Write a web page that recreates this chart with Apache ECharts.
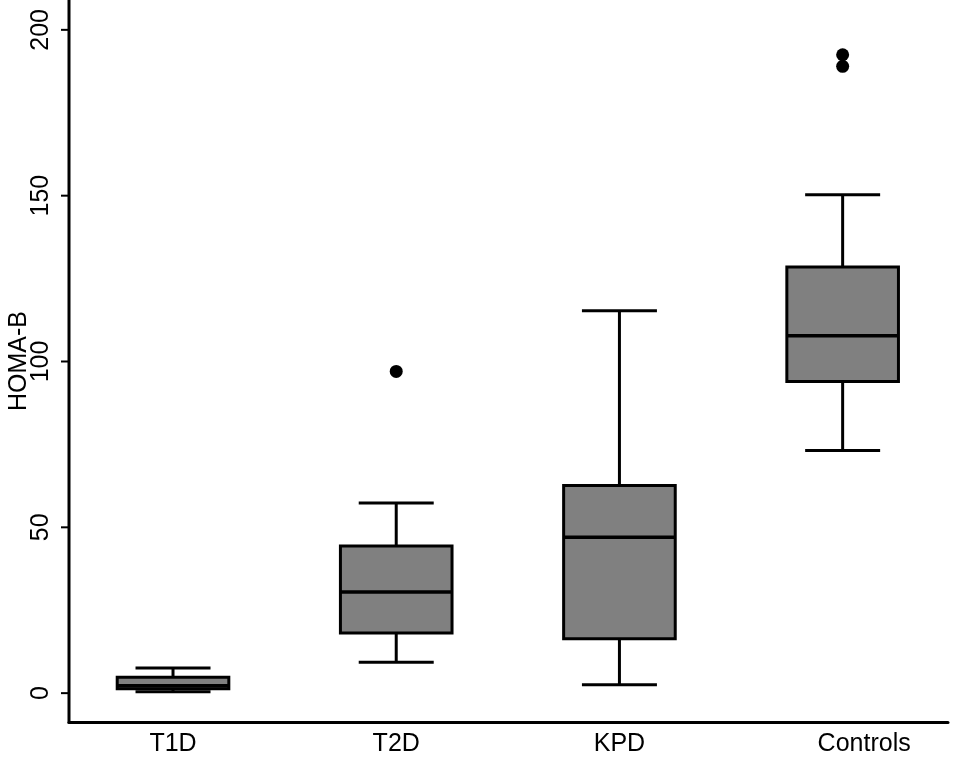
<!DOCTYPE html>
<html>
<head>
<meta charset="utf-8">
<script src="https://cdn.jsdelivr.net/npm/echarts@6/dist/echarts.min.js"></script>
<style>
  html, body { margin: 0; padding: 0; background: #fff; }
  #chart { width: 957px; height: 763px; }
</style>
</head>
<body>
<div id="chart"></div>
<script>
// groups on the x axis (placed at positions 1..4)
const categories = ['T1D', 'T2D', 'KPD', 'Controls']
// [lower whisker, Q1, median, Q3, upper whisker]
const boxValues = [
  [0.4, 1.3, 2.2, 4.8, 7.6],
  [9.3, 18.1, 30.5, 44.4, 57.3],
  [2.5, 16.4, 47.0, 62.6, 115.3],
  [73.2, 94.0, 107.8, 128.5, 150.3]
]
// outliers: [group position, value]
const outliers = [
  [2, 97.0],
  [4, 189.0],
  [4, 192.5]
]
const yTicks = [0, 50, 100, 150, 200]
const xTicks = [1, 2, 3, 4]

const font = 'Liberation Sans, Arial, sans-serif'
const xMin = 0.534
const xMax = 4.472
const yMin = -8.7
const yMax = 209
const chart = echarts.init(document.getElementById('chart'))

// box and whiskers drawn from the axes' own scales
function renderBox(params, api) {
  const i = api.value(0)
  const lo = api.coord([i, api.value(1)])
  const q1 = api.coord([i, api.value(2)])
  const med = api.coord([i, api.value(3)])
  const q3 = api.coord([i, api.value(4)])
  const hi = api.coord([i, api.value(5)])
  const band = api.size([1, 0])[0]
  const bw = band * 0.25
  const cw = band * 0.168
  const cx = lo[0]
  const line = { stroke: '#000', lineWidth: 3 }
  return {
    type: 'group',
    children: [
      { type: 'line', shape: { x1: cx, y1: q3[1], x2: cx, y2: hi[1] }, style: line },
      { type: 'line', shape: { x1: cx, y1: q1[1], x2: cx, y2: lo[1] }, style: line },
      { type: 'line', shape: { x1: cx - cw, y1: hi[1], x2: cx + cw, y2: hi[1] }, style: line },
      { type: 'line', shape: { x1: cx - cw, y1: lo[1], x2: cx + cw, y2: lo[1] }, style: line },
      {
        type: 'rect',
        shape: { x: cx - bw, y: q3[1], width: bw * 2, height: q1[1] - q3[1] },
        style: { fill: '#808080', stroke: '#000', lineWidth: 3 }
      },
      { type: 'line', shape: { x1: cx - bw, y1: med[1], x2: cx + bw, y2: med[1] }, style: { stroke: '#000', lineWidth: 3.5 } }
    ]
  }
}

// left axis line and ticks, placed through the y scale
function renderYAxis(params, api) {
  const p = api.coord([xMin, api.value(1)])
  const children = [
    { type: 'line', shape: { x1: p[0] - 8, y1: p[1], x2: p[0], y2: p[1] }, style: { stroke: '#000', lineWidth: 2 } }
  ]
  if (params.dataIndex === 0) {
    const a = api.coord([xMin, yMin])
    const b = api.coord([xMin, yMax])
    children.push({ type: 'line', shape: { x1: a[0], y1: a[1] + 1.5, x2: b[0], y2: b[1] }, style: { stroke: '#000', lineWidth: 3 } })
  }
  return { type: 'group', children }
}

const option = {
  animation: false,
  backgroundColor: '#fff',
  grid: { left: 69, right: 9, top: 0, bottom: 41, outerBoundsMode: 'none' },
  xAxis: {
    type: 'value',
    min: xMin,
    max: xMax,
    // sit on the zero of the helper axis, which is the bottom of the grid
    axisLine: { show: true, onZero: true, onZeroAxisIndex: 1, lineStyle: { color: '#000', width: 3 } },
    axisTick: { show: false },
    axisLabel: {
      customValues: xTicks,
      formatter: v => {
        const name = categories[Math.round(v) - 1]
        return name === 'Controls' ? '{shift|' + name + '}' : name
      },
      rich: { shift: { padding: [0, 0, 0, 43], fontSize: 25, fontFamily: font, color: '#000' } },
      color: '#000', fontFamily: font, fontSize: 25, margin: 10
    },
    splitLine: { show: false }
  },
  yAxis: [
    {
      type: 'value',
      min: yMin,
      max: yMax,
      name: 'HOMA-B',
      nameLocation: 'middle',
      nameRotate: 90,
      nameGap: 37,
      nameMoveOverlap: false,
      nameTextStyle: { color: '#000', fontFamily: font, fontSize: 25 },
      axisLine: { show: false },
      axisTick: { show: false },
      axisLabel: { rotate: 90, customValues: yTicks, color: '#000', fontFamily: font, fontSize: 25, margin: 15 },
      splitLine: { show: false }
    },
    {
      // helper axis: same span shifted so its zero is the bottom edge
      type: 'value',
      position: 'left',
      min: 0,
      max: yMax - yMin,
      show: false
    }
  ],
  series: [
    {
      type: 'custom',
      renderItem: renderYAxis,
      data: yTicks.map(v => [xMin, v]),
      encode: { x: 0, y: 1 },
      clip: false,
      silent: true,
      z: 10
    },
    {
      type: 'custom',
      renderItem: renderBox,
      data: boxValues.map((b, i) => [i + 1].concat(b)),
      encode: { x: 0, y: [1, 2, 3, 4, 5] }
    },
    {
      type: 'scatter',
      data: outliers,
      symbol: 'circle',
      symbolSize: 13,
      itemStyle: { color: '#000', opacity: 1 }
    }
  ]
}
chart.setOption(option)
</script>
</body>
</html>
